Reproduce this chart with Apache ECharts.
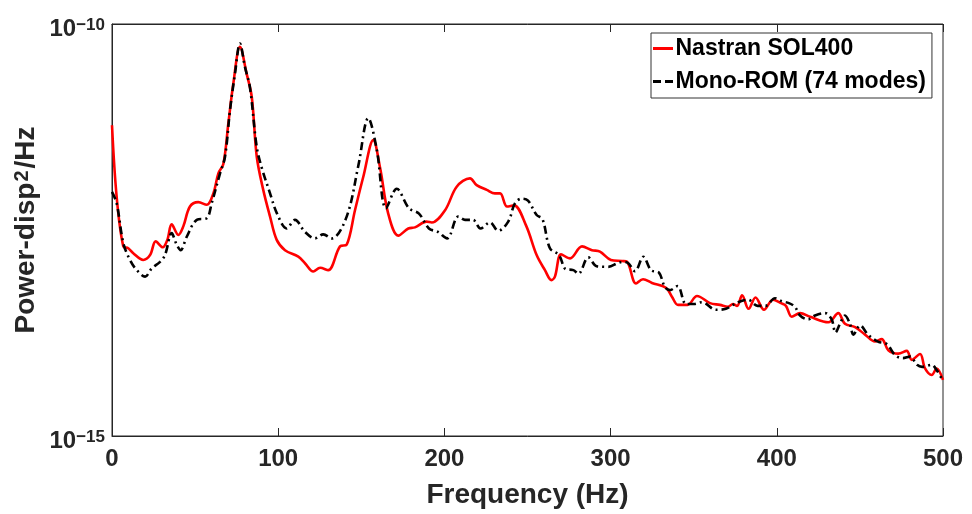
<!DOCTYPE html>
<html>
<head>
<meta charset="utf-8">
<script src="https://cdn.jsdelivr.net/npm/echarts@6/dist/echarts.min.js"></script>
<style>html,body{margin:0;padding:0;background:#fff;}#c{width:972px;height:514px;}</style>
</head>
<body>
<div id="c"></div>
<script>
// Nastran SOL400 (red solid)
const nastranFreq = [0,2.8,6.8,9.8,12.8,18.8,22.9,26.3,30.5,33.3,35.9,39.9,42.9,46.9,51.9,57,61,64,67,70,73,77,81,84.1,87.1,91,95.1,99.1,104.1,112.1,116.1,121.1,125.2,130.1,137.2,141.2,146.2,151.2,157.2,161.3,166.2,172.3,178.3,182.3,189.3,192.4,200.4,207.4,215.4,219.4,225.5,230.4,233.5,237.7,241.9,249.1,255.5,260.5,264.4,266.5,270.2,275.6,282.8,288.8,293.6,300.2,306.9,309.9,315.3,319.5,324.9,333.3,336.9,340.6,346.3,352,359.8,365.8,370.6,373.6,376.1,379.1,383,387.2,392.3,397.7,402.5,405.5,409,414,420,431,437,441,447.1,453.1,459.1,463.1,467.1,473.1,478.2,481.2,486.2,489.2,493.2,496.2,500];
const nastranPsd = [5.9e-12,8.0e-13,2.0e-13,1.9e-13,1.65e-13,1.37e-13,1.57e-13,2.3e-13,1.95e-13,2.4e-13,3.7e-13,2.75e-13,3.5e-13,6.1e-13,6.9e-13,6.4e-13,8.8e-13,1.54e-12,2.0e-12,6.2e-12,1.9e-11,5.3e-11,2.5e-11,1.3e-11,2.45e-12,9.7e-13,4.6e-13,2.4e-13,1.8e-13,1.5e-13,1.25e-13,9.9e-14,1.1e-13,1.03e-13,2.0e-13,2.1e-13,5.5e-13,1.4e-12,3.9e-12,1.8e-12,5.0e-13,2.7e-13,3.3e-13,3.4e-13,4.0e-13,3.9e-13,5.5e-13,1.06e-12,1.34e-12,1.11e-12,9.7e-13,8.8e-13,8.8e-13,6.1e-13,6.3e-13,3.6e-13,1.57e-13,1.03e-13,7.8e-14,8.6e-14,1.6e-13,1.43e-13,2.0e-13,1.8e-13,1.73e-13,1.37e-13,1.33e-13,1.3e-13,7.1e-14,8.0e-14,7.2e-14,6.3e-14,4.9e-14,3.9e-14,3.9e-14,5.0e-14,4.1e-14,3.9e-14,3.7e-14,4.0e-14,3.8e-14,5.1e-14,3.5e-14,4.8e-14,3.4e-14,4.5e-14,4.1e-14,3.8e-14,2.8e-14,3.1e-14,2.8e-14,2.4e-14,3.1e-14,2.3e-14,2.1e-14,1.7e-14,1.4e-14,1.5e-14,1.1e-14,1.0e-14,1.08e-14,8.4e-15,9.9e-15,6.6e-15,5.5e-15,6.6e-15,4.8e-15];

// Mono-ROM (74 modes) (black dash-dot)
const romFreq = [0,2.8,6.8,10.8,14.9,19.9,23.9,28.9,31.9,35.9,38.9,41.3,44.9,51,57,60,65,68,71,74,77,80,83,87.1,90.1,95.1,99.3,105.1,110.1,116.1,122.1,127.1,132.2,141.2,148.2,154.2,159.3,164.9,171.3,178.7,184.7,190.7,196.1,201.6,208.4,212.4,217.2,221.7,227.4,232.4,238.4,242.5,246.5,250.3,255.5,259,263.5,269,272.9,277.6,280.6,286.6,291.6,298.6,304.5,307.6,310.6,314.7,319.7,324.3,329.1,332.7,335.7,340.3,345.4,350.2,355,363.4,369.4,373.6,377.9,382.7,388.4,393.2,398.9,403.1,407.3,410.9,414,418.9,423,429,433,435.3,438,441,444,446.1,450.1,454.9,460.9,466.3,471.1,475.9,480.1,484.4,487.4,493.2,496.2,499.2];
const romPsd = [9.2e-13,6.7e-13,2.2e-13,1.37e-13,1.03e-13,8.6e-14,1.08e-13,1.3e-13,1.57e-13,2.9e-13,2.1e-13,1.8e-13,2.6e-13,4.2e-13,4.4e-13,6.7e-13,1.54e-12,2.45e-12,9.0e-12,2.5e-11,5.8e-11,3.0e-11,1.7e-11,3.2e-12,1.8e-12,8.8e-13,5.0e-13,3.3e-13,4.2e-13,3.0e-13,2.5e-13,2.8e-13,2.5e-13,4.6e-13,1.9e-12,7.2e-12,3.0e-12,5.8e-13,1.0e-12,5.8e-13,5.0e-13,3.3e-13,3.0e-13,2.5e-13,4.6e-13,4.2e-13,4.2e-13,3.3e-13,3.9e-13,3.1e-13,4.0e-13,6.7e-13,7.6e-13,7.2e-13,4.8e-13,4.3e-13,1.9e-13,1.57e-13,1.06e-13,1.03e-13,9.3e-14,1.47e-13,1.15e-13,1.13e-13,1.26e-13,1.3e-13,1.25e-13,1.0e-13,1.5e-13,1.03e-13,9.6e-14,6.4e-14,5.9e-14,6.6e-14,4.0e-14,4.0e-14,4.2e-14,3.4e-14,3.5e-14,3.9e-14,4.3e-14,4.5e-14,3.8e-14,3.8e-14,4.7e-14,4.3e-14,4.1e-14,3.7e-14,2.9e-14,2.6e-14,2.9e-14,3.1e-14,2.6e-14,1.8e-14,2.3e-14,2.9e-14,2.3e-14,1.7e-14,2.2e-14,1.7e-14,1.4e-14,1.3e-14,9.6e-15,8.8e-15,9.2e-15,7.3e-15,6.9e-15,7.3e-15,6.3e-15,5.0e-15];

const xTicks = [0, 100, 200, 300, 400, 500];
const yMin = 1e-15, yMax = 1e-10;

const FONT = "'Liberation Sans', Arial, sans-serif";
const AX = '#262626';

function pairs(xs, ys) { return xs.map((x, i) => [x, ys[i]]); }

const chart = echarts.init(document.getElementById('c'));
chart.setOption({
  animation: false,
  backgroundColor: '#fff',
  grid: { left: 112, right: 29, top: 24, bottom: 78, outerBoundsMode: 'none', containLabel: false, show: true, borderColor: AX, borderWidth: 1, backgroundColor: 'transparent' },
  legend: {
    left: 651, top: 33,
    orient: 'vertical',
    backgroundColor: '#fff',
    borderColor: '#333',
    borderWidth: 1,
    padding: [2, 6, 3, 2],
    itemWidth: 21, itemHeight: 3, itemGap: 6,
    textStyle: { fontFamily: FONT, fontWeight: 'bold', fontSize: 23, color: '#000', lineHeight: 27, padding: [0, 0, 0, -3] },
    data: [
      { name: 'Nastran SOL400', icon: 'path://M0,0h20v3h-20z' },
      { name: 'Mono-ROM (74 modes)', icon: 'path://M0,0h8v3h-8z M12,0h8v3h-8z' }
    ]
  },
  xAxis: [{
    type: 'value', min: xTicks[0], max: xTicks[xTicks.length - 1], interval: 100,
    name: 'Frequency (Hz)', nameLocation: 'middle', nameGap: 45, nameMoveOverlap: false,
    nameTextStyle: { fontFamily: FONT, fontWeight: 'bold', fontSize: 28, color: AX },
    axisLine: { show: true, lineStyle: { color: AX, width: 1 } },
    axisTick: { show: true, inside: true, length: 8, lineStyle: { color: AX } },
    axisLabel: { fontFamily: FONT, fontWeight: 'bold', fontSize: 24, color: AX, margin: 11 },
    splitLine: { show: false }
  }, {
    type: 'value', position: 'top', min: xTicks[0], max: xTicks[xTicks.length - 1], interval: 100,
    axisLine: { show: true, lineStyle: { color: AX, width: 1 } },
    axisTick: { show: true, inside: true, length: 8, lineStyle: { color: AX } },
    axisLabel: { show: false },
    splitLine: { show: false }
  }],
  yAxis: {
    type: 'log', logBase: 10, min: yMin, max: yMax,
    name: 'Power-disp{s|2}/Hz', nameLocation: 'middle', nameGap: 72, nameMoveOverlap: false,
    nameTextStyle: {
      fontFamily: FONT, fontWeight: 'bold', fontSize: 28, color: AX,
      rich: { s: { fontFamily: FONT, fontWeight: 'bold', fontSize: 20, color: AX, verticalAlign: 'top', lineHeight: 20, padding: [0, 2, 14, 1] } }
    },
    axisLine: { show: true, lineStyle: { color: AX, width: 1 } },
    axisTick: { show: false },
    splitLine: { show: false },
    axisLabel: {
      margin: 7,
      padding: [10, 0, 0, 0],
      showMinLabel: true, showMaxLabel: true,
      formatter: function (v) {
        const e = Math.round(Math.log10(v));
        if (e === -10 || e === -15) return '{b|10}{s|\u2212' + Math.abs(e) + '}';
        return '';
      },
      rich: {
        b: { fontFamily: FONT, fontWeight: 'bold', fontSize: 24, color: AX, lineHeight: 24, verticalAlign: 'bottom' },
        s: { fontFamily: FONT, fontWeight: 'bold', fontSize: 17, color: AX, lineHeight: 17, verticalAlign: 'top' }
      }
    }
  },
  series: [{
    name: 'Nastran SOL400', type: 'line', xAxisIndex: 0,
    data: pairs(nastranFreq, nastranPsd),
    symbol: 'none', smooth: 0.35,
    lineStyle: { color: '#ff0000', width: 2.6 },
    itemStyle: { color: '#ff0000' },
    z: 2
  }, {
    name: 'Mono-ROM (74 modes)', type: 'line', xAxisIndex: 0,
    data: pairs(romFreq, romPsd),
    symbol: 'none', smooth: 0.35,
    lineStyle: { color: '#000', width: 2.6, type: [8, 4, 2, 4] },
    itemStyle: { color: '#000' },
    z: 3
  }]
});
</script>
</body>
</html>
